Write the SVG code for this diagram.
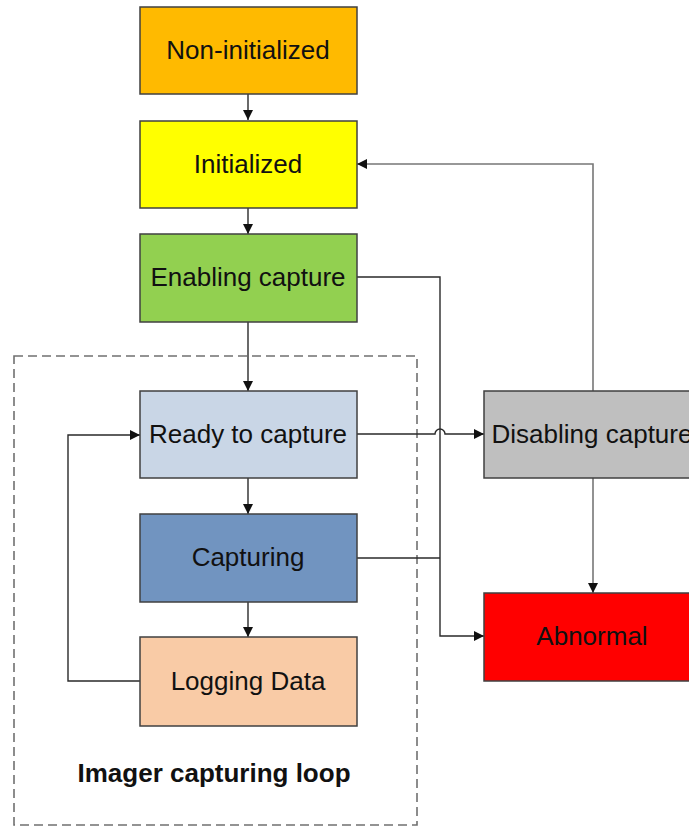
<svg xmlns="http://www.w3.org/2000/svg" width="689" height="827" viewBox="0 0 689 827">
  <style>
    .box { stroke: #404040; stroke-width: 1.5; }
    .lbl { font-family: "Liberation Sans", Arial, sans-serif; font-size: 26px; fill: #111; text-anchor: middle; }
    .title { font-family: "Liberation Sans", Arial, sans-serif; font-size: 26px; font-weight: bold; fill: #111; text-anchor: middle; }
    .wire { fill: none; stroke: #2a2a2a; stroke-width: 1.4; }
    .wire-gray { fill: none; stroke: #777; stroke-width: 1.6; }
    .loop { fill: none; stroke: #707070; stroke-width: 1.6; stroke-dasharray: 9 5; }
  </style>
  <defs>
    <marker id="arrow" viewBox="0 0 10 10" refX="10" refY="5" markerWidth="10" markerHeight="10" markerUnits="userSpaceOnUse" orient="auto">
      <path d="M0,0 L10,5 L0,10 z" fill="#111"/>
    </marker>
  </defs>
  <rect width="689" height="827" fill="#ffffff"/>

  <!-- loop container -->
  <g id="capture-loop">
    <rect class="loop" x="14" y="356" width="403" height="469"/>
    <text class="title" x="214" y="782">Imager capturing loop</text>
  </g>

  <!-- connectors -->
  <g id="connectors">
    <path class="wire" d="M248,94 V120" marker-end="url(#arrow)"/>
    <path class="wire" d="M248,208 V234" marker-end="url(#arrow)"/>
    <path class="wire" d="M248,322 V391" marker-end="url(#arrow)"/>
    <path class="wire" d="M248,478 V514" marker-end="url(#arrow)"/>
    <path class="wire" d="M248,602 V637" marker-end="url(#arrow)"/>
    <!-- logging back to ready -->
    <path class="wire" d="M140,681 H68 V435 H140" marker-end="url(#arrow)"/>
    <!-- enabling / capturing to abnormal -->
    <path class="wire" d="M357,277 H440 V636 H484" marker-end="url(#arrow)"/>
    <path class="wire" d="M357,558 H440"/>
    <!-- ready to disabling, hopping over the vertical line -->
    <path class="wire" d="M357,434 H435 A5,5 0 0 1 445,434 H484" marker-end="url(#arrow)"/>
    <!-- disabling back to initialized -->
    <path class="wire-gray" d="M593,391 V164 H357" marker-end="url(#arrow)"/>
    <!-- disabling to abnormal -->
    <path class="wire-gray" d="M593,478 V593" marker-end="url(#arrow)"/>
  </g>

  <g id="non-initialized">
    <rect class="box" x="140" y="7" width="217" height="87" fill="#FFBA00"/>
    <text class="lbl" x="248" y="59">Non-initialized</text>
  </g>
  <g id="initialized">
    <rect class="box" x="140" y="121" width="217" height="87" fill="#FFFF00"/>
    <text class="lbl" x="248" y="173">Initialized</text>
  </g>
  <g id="enabling-capture">
    <rect class="box" x="140" y="234" width="217" height="88" fill="#92D050"/>
    <text class="lbl" x="248" y="286">Enabling capture</text>
  </g>
  <g id="ready-to-capture">
    <rect class="box" x="140" y="391" width="217" height="87" fill="#C9D6E6"/>
    <text class="lbl" x="248" y="443">Ready to capture</text>
  </g>
  <g id="capturing">
    <rect class="box" x="140" y="514" width="217" height="88" fill="#7194C0"/>
    <text class="lbl" x="248" y="566">Capturing</text>
  </g>
  <g id="logging-data">
    <rect class="box" x="140" y="637" width="217" height="89" fill="#F9CBA6"/>
    <text class="lbl" x="248" y="690">Logging Data</text>
  </g>
  <g id="disabling-capture">
    <rect class="box" x="484" y="391" width="217" height="87" fill="#BFBFBF"/>
    <text class="lbl" x="592" y="443">Disabling capture</text>
  </g>
  <g id="abnormal">
    <rect class="box" x="484" y="593" width="217" height="88" fill="#FF0000"/>
    <text class="lbl" x="592" y="645">Abnormal</text>
  </g>
</svg>
